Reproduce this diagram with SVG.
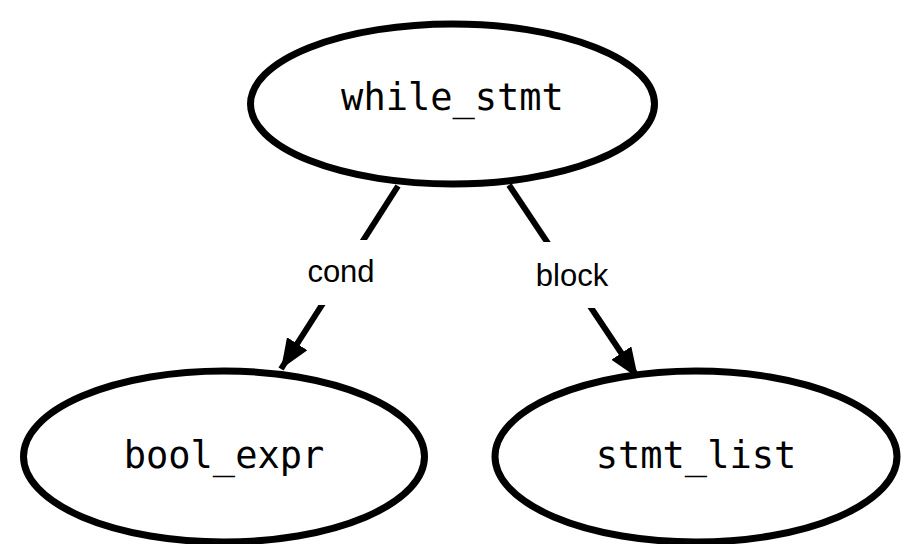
<svg xmlns="http://www.w3.org/2000/svg" width="904" height="544" viewBox="0 0 904 544">
  <style>
    .node ellipse { fill: #ffffff; stroke: #000000; stroke-width: 7; }
    .node text { font-family: "DejaVu Sans Mono", "Liberation Mono", monospace; font-size: 37px; fill: #000000; text-anchor: middle; }
    .edge line { stroke: #000000; stroke-width: 6; marker-end: url(#arrow); }
    .edge rect { fill: #ffffff; }
    .edge text { font-family: "Liberation Sans", Arial, sans-serif; font-size: 31px; fill: #000000; text-anchor: middle; }
  </style>
  <defs>
    <marker id="arrow" markerUnits="userSpaceOnUse" markerWidth="32" markerHeight="26" refX="30" refY="12" orient="auto">
      <path d="M0,0 L30,12 L0,24 z" fill="#000000"/>
    </marker>
  </defs>
  <rect width="904" height="544" fill="#ffffff"/>

  <!-- connectors -->
  <g id="edges">
    <g class="edge" id="edge-cond">
      <line x1="398" y1="186" x2="281" y2="369"/>
      <rect x="300" y="240" width="82" height="65"/>
      <text x="341" y="282">cond</text>
    </g>
    <g class="edge" id="edge-block">
      <line x1="509" y1="185" x2="638" y2="378"/>
      <rect x="530" y="242" width="86" height="66"/>
      <text x="572" y="286">block</text>
    </g>
  </g>

  <!-- nodes -->
  <g class="node" id="while_stmt">
    <ellipse cx="452.5" cy="104" rx="202" ry="80"/>
    <text x="452.5" y="110">while_stmt</text>
  </g>
  <g class="node" id="bool_expr">
    <ellipse cx="224" cy="456.5" rx="200.5" ry="85.5"/>
    <text x="224" y="468">bool_expr</text>
  </g>
  <g class="node" id="stmt_list">
    <ellipse cx="696" cy="456.5" rx="201" ry="85.5"/>
    <text x="696" y="468">stmt_list</text>
  </g>
</svg>
